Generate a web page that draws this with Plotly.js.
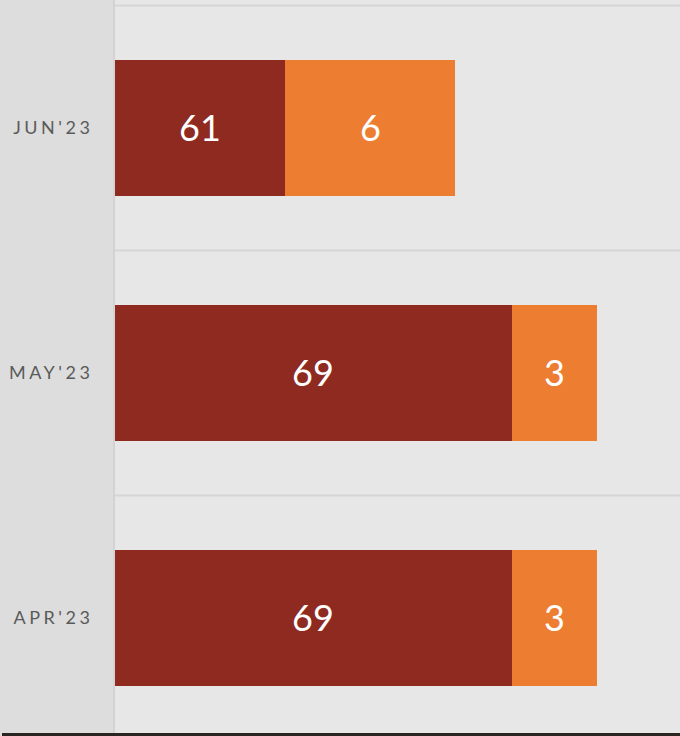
<!DOCTYPE html>
<html>
<head>
<meta charset="utf-8">
<script src="https://cdn.plot.ly/plotly-3.0.1.min.js"></script>
<style>
  html, body { margin: 0; padding: 0; background: #dedede; overflow: hidden; }
  #chart { width: 680px; height: 736px; }
  .ytick text { letter-spacing: 3.5px; }
</style>
</head>
<body>
<div id="chart"></div>
<script>
// Data (bottom to top)
const categories = ["APR'23", "MAY'23", "JUN'23"];
const seriesA = [69, 69, 61];   // dark red segment
const seriesB = [3, 3, 6];      // orange segment
const xRange = [55, 74.93];     // truncated value axis, as in the reference
const boundaries = [0.5, 1.5, 2.5];

const fontFam = "Lato, 'Open Sans', sans-serif";
const textFont = {family: fontFam, size: 36, color: '#ffffff'};

// label positions: middle of the visible part of each segment
const labelXA = seriesA.map(v => (Math.max(xRange[0], 0) + v) / 2);
const labelXB = seriesA.map((v, i) => v + seriesB[i] / 2);

const traces = [
  {
    type: 'bar', orientation: 'h', name: 'A',
    y: categories, x: seriesA,
    marker: {color: '#8E2A20', line: {width: 0}},
    hoverinfo: 'skip'
  },
  {
    type: 'bar', orientation: 'h', name: 'B',
    y: categories, x: seriesB,
    marker: {color: '#ED7D31', line: {width: 0}},
    hoverinfo: 'skip'
  }
];

const annotations = [];
categories.forEach((c, i) => {
  annotations.push({x: labelXA[i], y: c, xref: 'x', yref: 'y', text: String(seriesA[i]),
    showarrow: false, font: textFont, xanchor: 'center', yanchor: 'middle', yshift: 1});
  annotations.push({x: labelXB[i], y: c, xref: 'x', yref: 'y', text: String(seriesB[i]),
    showarrow: false, font: textFont, xanchor: 'center', yanchor: 'middle', yshift: 1});
});

const shapes = boundaries.map(b => ({
  type: 'line', xref: 'paper', yref: 'y', x0: 0, x1: 1, y0: b, y1: b,
  line: {color: '#d5d5d5', width: 2}, layer: 'below'
}));
shapes.push({
  type: 'rect', xref: 'paper', yref: 'paper', x0: -0.2, x1: 1, y0: 0, y1: 3/736,
  fillcolor: '#2a2520', line: {width: 0}, layer: 'above'
});

const layout = {
  width: 680, height: 736,
  margin: {l: 115, r: 0, t: 0, b: 0, pad: 0},
  paper_bgcolor: '#dddddd',
  plot_bgcolor: '#e7e7e7',
  barmode: 'stack',
  bargap: 0.445,
  showlegend: false,
  xaxis: {
    range: xRange, showgrid: false, zeroline: false, showticklabels: false,
    ticks: '', showline: false, fixedrange: true
  },
  yaxis: {
    type: 'category', categoryorder: 'array', categoryarray: categories,
    range: [-0.4816, 2.5224],
    showgrid: false, zeroline: false, ticks: '',
    showline: true, linecolor: '#d3d3d3', linewidth: 2,
    ticklabelstandoff: 16,
    tickfont: {family: fontFam, size: 18, color: '#5a5a5a'},
    fixedrange: true
  },
  annotations: annotations,
  shapes: shapes
};

Plotly.newPlot('chart', traces, layout, {displayModeBar: false, staticPlot: true});
</script>
</body>
</html>
